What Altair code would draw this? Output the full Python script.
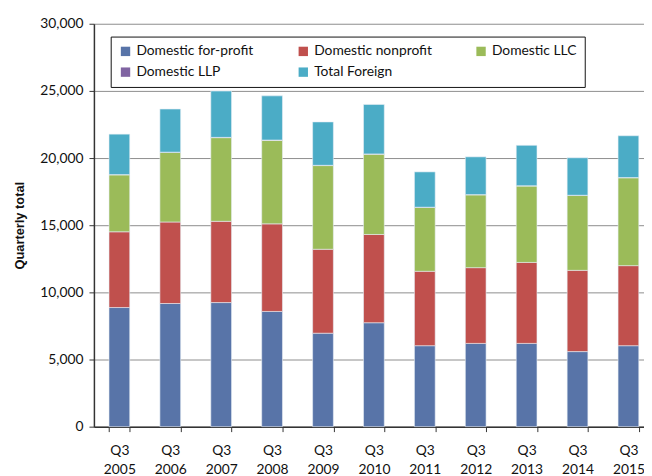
import altair as alt
import pandas as pd

quarters = ["Q3 2005", "Q3 2006", "Q3 2007", "Q3 2008", "Q3 2009", "Q3 2010",
            "Q3 2011", "Q3 2012", "Q3 2013", "Q3 2014", "Q3 2015"]
series = ["Domestic for-profit", "Domestic nonprofit", "Domestic LLC",
          "Domestic LLP", "Total Foreign"]
colors = ["#5874A8", "#C0504D", "#9BBB59", "#8064A2", "#4BACC6"]

for_profit = [8870, 9170, 9240, 8580, 6960, 7740, 6030, 6200, 6200, 5590, 6030]
nonprofit = [5640, 6070, 6050, 6520, 6250, 6570, 5540, 5640, 6030, 6050, 5960]
llc = [4240, 5180, 6230, 6220, 6230, 5980, 4750, 5420, 5690, 5570, 6540]
llp = [20, 20, 20, 20, 20, 20, 20, 20, 20, 20, 20]
foreign = [3010, 3210, 3450, 3290, 3230, 3680, 2630, 2810, 3010, 2790, 3110]
y_ticks = [0, 5000, 10000, 15000, 20000, 25000, 30000]

rows = []
for i, q in enumerate(quarters):
    for k, (name, vals) in enumerate(zip(series, [for_profit, nonprofit, llc, llp, foreign])):
        rows.append({"quarter": q, "series": name, "value": vals[i], "order": k})
df = pd.DataFrame(rows)

FONT = "Lato"

chart = alt.Chart(df).mark_bar(
    size=21, stroke="#E8EEF4", strokeWidth=1, strokeOpacity=0.6
).encode(
    x=alt.X("quarter:N", sort=quarters, title=None,
            scale=alt.Scale(range=[0, 567], paddingInner=0.59, paddingOuter=0.295),
            axis=alt.Axis(labelExpr="datum.value ? split(datum.value, ' ') : ''",
                          labelAngle=0,
                          tickBand="extent", tickSize=5, tickColor="#333333",
                          domainColor="#333333", labelFont=FONT, labelFontSize=14,
                          labelColor="#111111", labelPadding=12, labelLineHeight=19,
                          grid=False)),
    y=alt.Y("value:Q", stack="zero", title="Quarterly total",
            scale=alt.Scale(domain=[0, 30000], nice=False),
            axis=alt.Axis(values=y_ticks,
                          labelExpr="format(datum.value, ',d')",
                          tickSize=5, tickColor="#333333",
                          domainColor="#333333", gridColor="#8C8C8C",
                          labelFont=FONT, labelFontSize=14, labelColor="#111111",
                          labelPadding=6, titleFont="Liberation Sans",
                          titleFontSize=13, titleFontWeight="bold",
                          titleColor="#111111", titlePadding=14)),
    color=alt.Color("series:N", sort=series,
                    scale=alt.Scale(domain=series, range=colors),
                    legend=alt.Legend(title=None, orient="none", legendX=17, legendY=13,
                                      direction="horizontal", columns=3,
                                      gridAlign="all", columnPadding=42, rowPadding=7,
                                      symbolType="square", symbolSize=90,
                                      symbolStrokeWidth=0, labelFont=FONT,
                                      labelFontSize=14, labelColor="#111111",
                                      padding=8, strokeColor="#111111",
                                      fillColor="white", labelLimit=200)),
    order=alt.Order("order:Q", sort="ascending"),
).properties(
    width=557, height=408,
    autosize=alt.AutoSizeParams(type="none"),
    padding={"left": 87, "top": 13, "right": 0, "bottom": 47},
).configure_view(stroke=None).configure_axis(domainWidth=1.5)

chart.save("out.html", embed_options={"renderer": "svg", "actions": False})
